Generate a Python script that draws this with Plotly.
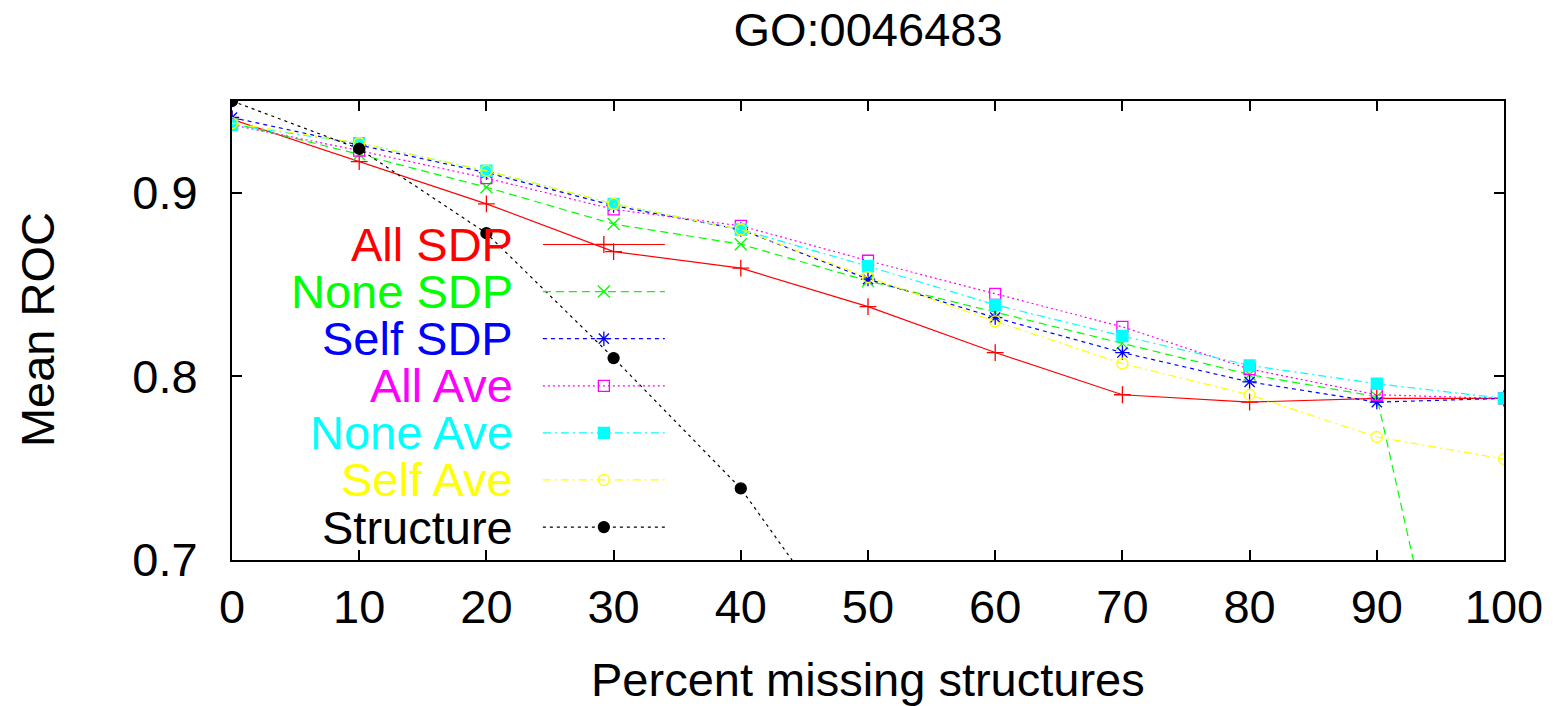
import plotly.graph_objects as go

# ---- data ----
pct_missing = [0, 10, 20, 30, 40, 50, 60, 70, 80, 90, 100]
all_sdp = [0.940, 0.917, 0.894, 0.868, 0.859, 0.838, 0.813, 0.790, 0.786, 0.788, 0.788]
none_sdp = [0.938, 0.921, 0.903, 0.883, 0.872, 0.852, 0.835, 0.818, 0.801, 0.789, 0.479]
self_sdp = [0.941, 0.926, 0.911, 0.893, 0.880, 0.853, 0.832, 0.813, 0.797, 0.786, 0.788]
all_ave = [0.937, 0.923, 0.908, 0.891, 0.882, 0.863, 0.845, 0.827, 0.804, 0.790, 0.788]
none_ave = [0.937, 0.927, 0.912, 0.894, 0.880, 0.860, 0.839, 0.822, 0.806, 0.796, 0.788]
self_ave = [0.938, 0.927, 0.912, 0.894, 0.880, 0.854, 0.830, 0.807, 0.790, 0.767, 0.755]
structure_x = [0, 10, 20, 30, 40, 50]
structure = [0.950, 0.924, 0.878, 0.810, 0.739, 0.642]

series_names = ["All SDP", "None SDP", "Self SDP", "All Ave", "None Ave", "Self Ave", "Structure"]
series_x = [pct_missing] * 6 + [structure_x]
series_y = [all_sdp, none_sdp, self_sdp, all_ave, none_ave, self_ave, structure]

title_text = "GO:0046483"
x_label = "Percent missing structures"
y_label = "Mean ROC"
x_ticks = [0, 10, 20, 30, 40, 50, 60, 70, 80, 90, 100]
y_ticks = [0.7, 0.8, 0.9]

# ---- styles ----
colors = ["#ff0000", "#00ff00", "#0000ff", "#ff00ff", "#00ffff", "#ffff00", "#000000"]
dashes = ["solid", "8px,5px", "4px,4px", "2px,3px", "8px,4px,2px,4px", "8px,4px,2px,4px", "3px,4px"]
symbols = ["cross-thin-open", "x-thin-open", "asterisk-open", "square-open", "square", "circle-open", "circle"]
msizes = [12, 12, 12, 11, 11, 11, 11]

FONT = "Liberation Sans, Arial, sans-serif"
FS = 47

# page has an 8px body margin; compensate so the plot lands where the reference has it
OFF = 8
W, H = 1563 - OFF, 706 - OFF
page_left, page_right, page_top, page_bottom = 232, 1504.5, 100.5, 560.5
L = page_left - OFF
T = page_top - OFF
R = W - (page_right - OFF)
B = H - (page_bottom - OFF)
plot_w = W - L - R
plot_h = H - T - B


def px_to_paper_x(px):
    return (px - page_left) / (page_right - page_left)


def py_to_paper_y(py):
    return (page_bottom - py) / (page_bottom - page_top)


fig = go.Figure()

for name, xs, ys, c, d, s, ms in zip(series_names, series_x, series_y, colors, dashes, symbols, msizes):
    fig.add_trace(go.Scatter(
        x=xs, y=ys, mode="lines+markers", name=name,
        line=dict(color=c, width=1.2, dash=d),
        marker=dict(symbol=s, size=ms, color=c, line=dict(color=c, width=1.3)),
        showlegend=False, cliponaxis=True,
    ))

# ---- gnuplot-style key (text left, sample right) on an overlay axis ----
key_text_right_px = 515
key_line_x0_px, key_line_x1_px = 543, 665
key_row0_px, key_row_step = 244.3, 47.2

annotations = []
for i, (name, c, d, s, ms) in enumerate(zip(series_names, colors, dashes, symbols, msizes)):
    yy = py_to_paper_y(key_row0_px + i * key_row_step)
    x0 = px_to_paper_x(key_line_x0_px)
    x1 = px_to_paper_x(key_line_x1_px)
    xm = (x0 + x1) / 2
    fig.add_trace(go.Scatter(
        x=[x0, x1], y=[yy, yy], mode="lines", xaxis="x2", yaxis="y2",
        line=dict(color=c, width=1.2, dash=d), showlegend=False, hoverinfo="skip",
    ))
    fig.add_trace(go.Scatter(
        x=[xm], y=[yy], mode="markers", xaxis="x2", yaxis="y2",
        marker=dict(symbol=s, size=ms, color=c, line=dict(color=c, width=1.3)),
        showlegend=False, hoverinfo="skip",
    ))
    annotations.append(dict(
        x=px_to_paper_x(key_text_right_px), y=yy, xref="paper", yref="paper",
        text=name, showarrow=False, xanchor="right", yanchor="middle",
        font=dict(family=FONT, size=FS, color=c),
    ))

# axis titles as positioned annotations
annotations.append(dict(
    x=px_to_paper_x(868), y=py_to_paper_y(680), xref="paper", yref="paper",
    text=x_label, showarrow=False, xanchor="center", yanchor="middle",
    font=dict(family=FONT, size=FS, color="black"),
))
annotations.append(dict(
    x=px_to_paper_x(37), y=py_to_paper_y(330), xref="paper", yref="paper",
    text=y_label, showarrow=False, xanchor="center", yanchor="middle", textangle=-90,
    font=dict(family=FONT, size=FS, color="black"),
))

axis_common = dict(
    showgrid=False, zeroline=False, showline=True, linecolor="black", linewidth=2,
    mirror="ticks", ticks="inside", ticklen=10, tickwidth=1.5, tickcolor="black",
    tickfont=dict(family=FONT, size=FS, color="black"), automargin=False,
)

fig.update_layout(
    width=W, height=H,
    margin=dict(l=L, r=R, t=T, b=B, pad=0, autoexpand=False),
    paper_bgcolor="white", plot_bgcolor="white",
    title=dict(text=title_text, x=(868 - OFF) / W, xanchor="center",
               y=1 - (30 - OFF) / H, yanchor="middle", yref="container",
               font=dict(family=FONT, size=FS, color="black")),
    xaxis=dict(range=[0, 100], tickvals=x_ticks, ticklabelstandoff=5, **axis_common),
    yaxis=dict(range=[0.7, 0.95], tickvals=y_ticks, tickformat=".1f", ticklabelstandoff=23,
               **axis_common),
    xaxis2=dict(overlaying="x", range=[0, 1], visible=False),
    yaxis2=dict(overlaying="y", range=[0, 1], visible=False),
    annotations=annotations,
)

fig.write_html("out.html")
